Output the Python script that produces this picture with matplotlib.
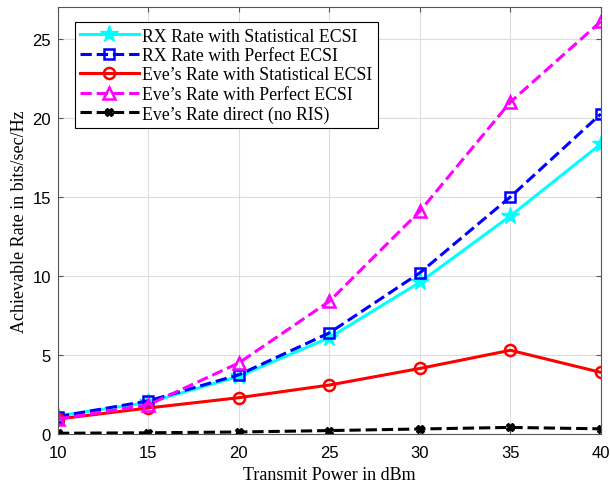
import numpy as np
import matplotlib.pyplot as plt

# transmit power (dBm) and achievable rates (bits/sec/Hz)
power = [10, 15, 20, 25, 30, 35, 40]
rx_stat = [1.15, 2.0, 3.65, 6.1, 9.6, 13.8, 18.35]
rx_perf = [1.1, 2.1, 3.75, 6.4, 10.2, 15.0, 20.25]
eve_stat = [0.95, 1.65, 2.3, 3.1, 4.15, 5.3, 3.9]
eve_perf = [0.95, 1.85, 4.5, 8.4, 14.1, 21.0, 26.1]
eve_direct = [0.05, 0.08, 0.13, 0.22, 0.32, 0.42, 0.33]

fig = plt.figure(figsize=(6.1, 4.85), dpi=100)
ax = fig.add_axes([0.095, 0.103, 0.89, 0.88])

ax.plot(power, rx_stat, '-', color='cyan', lw=2.2, marker='*', ms=13,
        label='RX Rate with Statistical ECSI')
ax.plot(power, rx_perf, '--', color='blue', lw=2.2, marker='s', ms=7, mfc='none', mew=1.8,
        label='RX Rate with Perfect ECSI')
ax.plot(power, eve_stat, '-', color='red', lw=2.2, marker='o', ms=8, mfc='none', mew=1.8,
        label="Eve\u2019s Rate with Statistical ECSI")
ax.plot(power, eve_perf, '--', color='magenta', lw=2.2, marker='^', ms=9, mfc='none', mew=1.8,
        label="Eve\u2019s Rate with Perfect ECSI")
ax.plot(power, eve_direct, '--', color='black', lw=2.2, marker='X', ms=6,
        label='Eve\u2019s Rate direct (no RIS)')

ax.set_xlim(10, 40)
ax.set_ylim(0, 27)
ax.set_xticks([10, 15, 20, 25, 30, 35, 40])
ax.set_yticks([0, 5, 10, 15, 20, 25])
ax.grid(True, color='#dcdcdc', lw=0.8)
ax.tick_params(direction='in', top=True, right=True, labelsize=12, color='#555555')
ax.tick_params(axis='x', pad=8)
ax.tick_params(axis='y', pad=5)
for lab in ax.get_xticklabels() + ax.get_yticklabels():
    lab.set_fontfamily('Liberation Sans')
for s in ax.spines.values():
    s.set_color('#555555')

ax.set_xlabel('Transmit Power in dBm', fontfamily='Liberation Serif', fontsize=13, labelpad=4)
ax.set_ylabel('Achievable Rate in bits/sec/Hz', fontfamily='Liberation Serif', fontsize=13, labelpad=3)

leg = ax.legend(loc='upper left', bbox_to_anchor=(0.031, 0.965),
                prop={'family': 'Liberation Serif', 'size': 12.8},
                fancybox=False, edgecolor='black', framealpha=1, handlelength=3.3,
                borderaxespad=0, labelspacing=0.14, handletextpad=0.2, borderpad=0.3)
leg.get_frame().set_linewidth(0.8)

fig.savefig('out.png', dpi=100)
